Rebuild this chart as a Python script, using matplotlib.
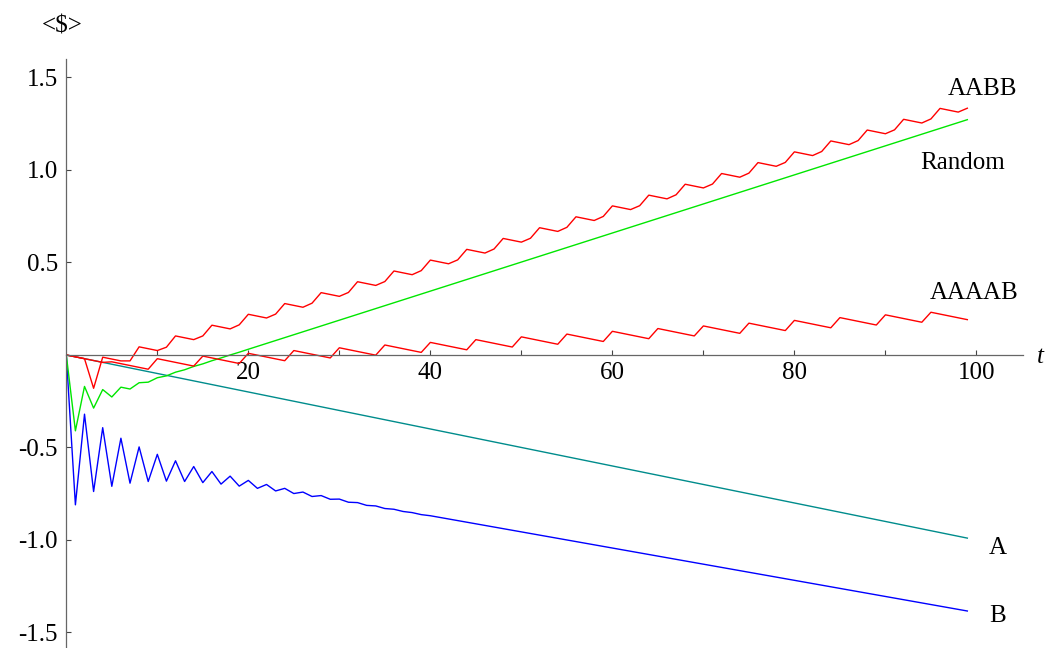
import matplotlib
matplotlib.use("Agg")
import matplotlib.pyplot as plt

# ---------------- data (expected capital <$> after t games) ----------------
t_A = [0, 99]
game_A = [0.0, -0.99]

t_B = list(range(0, 41)) + [99]
game_B = [0.0, -0.810, -0.320, -0.738, -0.393, -0.710, -0.450, -0.693, -0.497, -0.684,
          -0.537, -0.682, -0.572, -0.684, -0.603, -0.690, -0.630, -0.698, -0.655, -0.709,
          -0.678, -0.721, -0.700, -0.735, -0.721, -0.749, -0.741, -0.765, -0.760, -0.780,
          -0.779, -0.796, -0.798, -0.813, -0.816, -0.830, -0.834, -0.846, -0.852, -0.863,
          -0.869, -1.384]

t_random = list(range(0, 21)) + [99]
game_random = [0.0, -0.410, -0.170, -0.287, -0.187, -0.227, -0.174, -0.184, -0.150, -0.147,
               -0.123, -0.113, -0.093, -0.080, -0.062, -0.048, -0.031, -0.016, 0.000, 0.015,
               0.031, 1.272]

t_full = list(range(0, 100))
game_AABB = [0.0, -0.010, -0.020, -0.180, -0.012, -0.022, -0.032, -0.032,
             0.044, 0.034, 0.024, 0.042, 0.103, 0.093, 0.083, 0.103,
             0.161, 0.151, 0.141, 0.163, 0.220, 0.210, 0.200, 0.221,
             0.278, 0.268, 0.258, 0.280, 0.337, 0.327, 0.317, 0.338,
             0.396, 0.386, 0.376, 0.397, 0.454, 0.444, 0.434, 0.456,
             0.513, 0.503, 0.493, 0.514, 0.571, 0.561, 0.551, 0.573,
             0.630, 0.620, 0.610, 0.631, 0.688, 0.678, 0.668, 0.690,
             0.747, 0.737, 0.727, 0.749, 0.806, 0.796, 0.786, 0.807,
             0.864, 0.854, 0.844, 0.866, 0.923, 0.913, 0.903, 0.924,
             0.981, 0.971, 0.961, 0.983, 1.040, 1.030, 1.020, 1.041,
             1.098, 1.088, 1.078, 1.100, 1.157, 1.147, 1.137, 1.159,
             1.216, 1.206, 1.196, 1.217, 1.274, 1.264, 1.254, 1.276,
             1.333, 1.323, 1.313, 1.334]
game_AAAAB = [0.0, -0.010, -0.020, -0.030, -0.040,
              -0.037, -0.047, -0.057, -0.067, -0.077,
              -0.020, -0.030, -0.040, -0.050, -0.060,
              -0.006, -0.016, -0.026, -0.036, -0.046,
              0.009, -0.001, -0.011, -0.021, -0.031,
              0.024, 0.014, 0.004, -0.006, -0.016,
              0.039, 0.029, 0.019, 0.009, -0.001,
              0.054, 0.044, 0.034, 0.024, 0.014,
              0.068, 0.058, 0.048, 0.038, 0.028,
              0.083, 0.073, 0.063, 0.053, 0.043,
              0.098, 0.088, 0.078, 0.068, 0.058,
              0.113, 0.103, 0.093, 0.083, 0.073,
              0.128, 0.118, 0.108, 0.098, 0.088,
              0.143, 0.133, 0.123, 0.113, 0.103,
              0.157, 0.147, 0.137, 0.127, 0.117,
              0.172, 0.162, 0.152, 0.142, 0.132,
              0.187, 0.177, 0.167, 0.157, 0.147,
              0.202, 0.192, 0.182, 0.172, 0.162,
              0.217, 0.207, 0.197, 0.187, 0.177,
              0.231, 0.221, 0.211, 0.201, 0.191]

x_ticks = [10, 20, 30, 40, 50, 60, 70, 80, 90, 100]
x_tick_labels = ["", "20", "", "40", "", "60", "", "80", "", "100"]
y_ticks = [-1.5, -1.0, -0.5, 0.5, 1.0, 1.5]
y_tick_labels = ["-1.5", "-1.0", "-0.5", "0.5", "1.0", "1.5"]

series_labels = ["AABB", "Random", "AAAAB", "A", "B"]
label_pos = [(96.8, 1.440), (93.8, 1.040), (94.9, 0.336), (101.4, -1.046), (101.4, -1.410)]

# ---------------- figure ----------------
plt.rcParams['font.family'] = ['Liberation Serif', 'DejaVu Serif']
FS = 18

fig = plt.figure(figsize=(10.46, 6.48), dpi=100)
W, H = 1046, 648
ax = fig.add_axes([66.3 / W, 0.0, 957 / W, 589 / H])
ax.set_xlim(0, 105.15)
ax.set_ylim(-1.584, 1.6)

lw = 1.0
ax.plot(t_A, game_A, color='#008C8C', lw=lw)
ax.plot(t_B, game_B, color='#0000FF', lw=lw)
ax.plot(t_random, game_random, color='#00E600', lw=lw)
ax.plot(t_full, game_AAAAB, color='#FF0000', lw=lw)
ax.plot(t_full, game_AABB, color='#FF0000', lw=lw)

for spine in ['top', 'right']:
    ax.spines[spine].set_visible(False)
ax.spines['bottom'].set_position(('data', 0))
ax.spines['left'].set_position(('data', 0))
for spine in ['bottom', 'left']:
    ax.spines[spine].set_color('#666666')
    ax.spines[spine].set_linewidth(0.9)

ax.set_xticks(x_ticks)
ax.set_xticklabels(x_tick_labels)
ax.set_yticks(y_ticks)
ax.set_yticklabels(y_tick_labels)
ax.tick_params(axis='both', direction='in', length=3.6, width=0.8, color='#444444',
               labelsize=FS)
ax.tick_params(axis='x', pad=5)
ax.tick_params(axis='y', pad=6)

for lab, (lx, ly) in zip(series_labels, label_pos):
    ax.text(lx, ly, lab, fontsize=FS, ha='left', va='center')

fig.text(62 / W, 1 - 27 / H, "<$>", fontsize=FS, ha='center', va='center')
fig.text(1044 / W, 1 - 357 / H, "t", fontsize=FS, style='italic', ha='right', va='center')

fig.savefig("out.png", dpi=100)
